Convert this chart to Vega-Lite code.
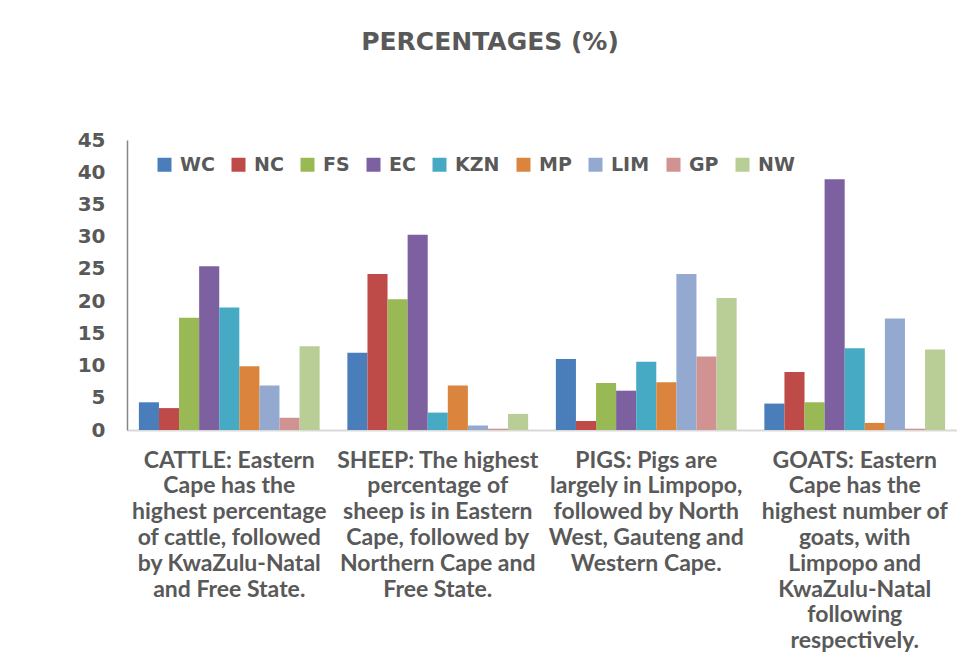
{
  "$schema": "https://vega.github.io/schema/vega-lite/v6.json",
  "autosize": {"type": "none"},
  "padding": {"left": 127, "top": 140, "right": 0, "bottom": 232},
  "width": 830,
  "height": 290,
  "background": "white",
  "title": {
    "text": "PERCENTAGES (%)",
    "font": "DejaVu Sans",
    "fontSize": 25,
    "fontWeight": "bold",
    "color": "#595959",
    "anchor": "middle",
    "frame": "group",
    "dx": -52,
    "offset": 75
  },
  "data": {
    "values": [
      {"animal": "CATTLE: Eastern|Cape has the|highest percentage|of cattle, followed|by KwaZulu-Natal|and Free State.", "province": "WC", "pct": 4.3},
      {"animal": "CATTLE: Eastern|Cape has the|highest percentage|of cattle, followed|by KwaZulu-Natal|and Free State.", "province": "NC", "pct": 3.4},
      {"animal": "CATTLE: Eastern|Cape has the|highest percentage|of cattle, followed|by KwaZulu-Natal|and Free State.", "province": "FS", "pct": 17.4},
      {"animal": "CATTLE: Eastern|Cape has the|highest percentage|of cattle, followed|by KwaZulu-Natal|and Free State.", "province": "EC", "pct": 25.4},
      {"animal": "CATTLE: Eastern|Cape has the|highest percentage|of cattle, followed|by KwaZulu-Natal|and Free State.", "province": "KZN", "pct": 19.0},
      {"animal": "CATTLE: Eastern|Cape has the|highest percentage|of cattle, followed|by KwaZulu-Natal|and Free State.", "province": "MP", "pct": 9.9},
      {"animal": "CATTLE: Eastern|Cape has the|highest percentage|of cattle, followed|by KwaZulu-Natal|and Free State.", "province": "LIM", "pct": 6.9},
      {"animal": "CATTLE: Eastern|Cape has the|highest percentage|of cattle, followed|by KwaZulu-Natal|and Free State.", "province": "GP", "pct": 1.9},
      {"animal": "CATTLE: Eastern|Cape has the|highest percentage|of cattle, followed|by KwaZulu-Natal|and Free State.", "province": "NW", "pct": 13.0},
      {"animal": "SHEEP: The highest|percentage of|sheep is in Eastern|Cape, followed by|Northern Cape and|Free State.", "province": "WC", "pct": 12.0},
      {"animal": "SHEEP: The highest|percentage of|sheep is in Eastern|Cape, followed by|Northern Cape and|Free State.", "province": "NC", "pct": 24.2},
      {"animal": "SHEEP: The highest|percentage of|sheep is in Eastern|Cape, followed by|Northern Cape and|Free State.", "province": "FS", "pct": 20.3},
      {"animal": "SHEEP: The highest|percentage of|sheep is in Eastern|Cape, followed by|Northern Cape and|Free State.", "province": "EC", "pct": 30.3},
      {"animal": "SHEEP: The highest|percentage of|sheep is in Eastern|Cape, followed by|Northern Cape and|Free State.", "province": "KZN", "pct": 2.7},
      {"animal": "SHEEP: The highest|percentage of|sheep is in Eastern|Cape, followed by|Northern Cape and|Free State.", "province": "MP", "pct": 6.9},
      {"animal": "SHEEP: The highest|percentage of|sheep is in Eastern|Cape, followed by|Northern Cape and|Free State.", "province": "LIM", "pct": 0.7},
      {"animal": "SHEEP: The highest|percentage of|sheep is in Eastern|Cape, followed by|Northern Cape and|Free State.", "province": "GP", "pct": 0.2},
      {"animal": "SHEEP: The highest|percentage of|sheep is in Eastern|Cape, followed by|Northern Cape and|Free State.", "province": "NW", "pct": 2.5},
      {"animal": "PIGS: Pigs are|largely in Limpopo,|followed by North|West, Gauteng and|Western Cape.", "province": "WC", "pct": 11.0},
      {"animal": "PIGS: Pigs are|largely in Limpopo,|followed by North|West, Gauteng and|Western Cape.", "province": "NC", "pct": 1.4},
      {"animal": "PIGS: Pigs are|largely in Limpopo,|followed by North|West, Gauteng and|Western Cape.", "province": "FS", "pct": 7.3},
      {"animal": "PIGS: Pigs are|largely in Limpopo,|followed by North|West, Gauteng and|Western Cape.", "province": "EC", "pct": 6.1},
      {"animal": "PIGS: Pigs are|largely in Limpopo,|followed by North|West, Gauteng and|Western Cape.", "province": "KZN", "pct": 10.6},
      {"animal": "PIGS: Pigs are|largely in Limpopo,|followed by North|West, Gauteng and|Western Cape.", "province": "MP", "pct": 7.4},
      {"animal": "PIGS: Pigs are|largely in Limpopo,|followed by North|West, Gauteng and|Western Cape.", "province": "LIM", "pct": 24.2},
      {"animal": "PIGS: Pigs are|largely in Limpopo,|followed by North|West, Gauteng and|Western Cape.", "province": "GP", "pct": 11.4},
      {"animal": "PIGS: Pigs are|largely in Limpopo,|followed by North|West, Gauteng and|Western Cape.", "province": "NW", "pct": 20.5},
      {"animal": "GOATS: Eastern|Cape has the|highest number of|goats, with|Limpopo and|KwaZulu-Natal|following|respectively.", "province": "WC", "pct": 4.1},
      {"animal": "GOATS: Eastern|Cape has the|highest number of|goats, with|Limpopo and|KwaZulu-Natal|following|respectively.", "province": "NC", "pct": 9.0},
      {"animal": "GOATS: Eastern|Cape has the|highest number of|goats, with|Limpopo and|KwaZulu-Natal|following|respectively.", "province": "FS", "pct": 4.3},
      {"animal": "GOATS: Eastern|Cape has the|highest number of|goats, with|Limpopo and|KwaZulu-Natal|following|respectively.", "province": "EC", "pct": 38.9},
      {"animal": "GOATS: Eastern|Cape has the|highest number of|goats, with|Limpopo and|KwaZulu-Natal|following|respectively.", "province": "KZN", "pct": 12.7},
      {"animal": "GOATS: Eastern|Cape has the|highest number of|goats, with|Limpopo and|KwaZulu-Natal|following|respectively.", "province": "MP", "pct": 1.1},
      {"animal": "GOATS: Eastern|Cape has the|highest number of|goats, with|Limpopo and|KwaZulu-Natal|following|respectively.", "province": "LIM", "pct": 17.3},
      {"animal": "GOATS: Eastern|Cape has the|highest number of|goats, with|Limpopo and|KwaZulu-Natal|following|respectively.", "province": "GP", "pct": 0.2},
      {"animal": "GOATS: Eastern|Cape has the|highest number of|goats, with|Limpopo and|KwaZulu-Natal|following|respectively.", "province": "NW", "pct": 12.5}
    ]
  },
  "mark": {"type": "bar"},
  "encoding": {
    "x": {
      "field": "animal",
      "type": "nominal",
      "sort": null,
      "scale": {"paddingInner": 0.133, "paddingOuter": 0.057},
      "axis": {
        "title": null,
        "labelAngle": 0,
        "labelExpr": "split(datum.label, '|')",
        "labelFont": "Lato",
        "labelFontSize": 23,
        "labelFontWeight": "bold",
        "labelColor": "#595959",
        "labelLineHeight": 25.8,
        "labelPadding": 19,
        "labelLimit": 0,
        "labelBaseline": "top",
        "ticks": false,
        "domainColor": "#d9d9d9",
        "domainWidth": 2
      }
    },
    "xOffset": {
      "field": "province",
      "type": "nominal",
      "sort": ["WC", "NC", "FS", "EC", "KZN", "MP", "LIM", "GP", "NW"],
      "scale": {"paddingInner": 0, "paddingOuter": 0}
    },
    "y": {
      "field": "pct",
      "type": "quantitative",
      "scale": {"domain": [0, 45], "nice": false},
      "axis": {
        "title": null,
        "values": [0, 5, 10, 15, 20, 25, 30, 35, 40, 45],
        "grid": false,
        "ticks": false,
        "labelFont": "DejaVu Sans",
        "labelFontSize": 20,
        "labelFontWeight": "bold",
        "labelColor": "#595959",
        "labelPadding": 22,
        "domainColor": "#868686",
        "domainWidth": 1.5
      }
    },
    "color": {
      "field": "province",
      "type": "nominal",
      "sort": ["WC", "NC", "FS", "EC", "KZN", "MP", "LIM", "GP", "NW"],
      "scale": {
        "domain": ["WC", "NC", "FS", "EC", "KZN", "MP", "LIM", "GP", "NW"],
        "range": ["#4a7ebb", "#be4b48", "#98b954", "#7d60a0", "#46aac5", "#db843d", "#93a9cf", "#d19392", "#b9cd96"]
      },
      "legend": {
        "title": null,
        "orient": "none",
        "legendX": 28,
        "legendY": 15,
        "direction": "horizontal",
        "symbolType": "square",
        "symbolSize": 196,
        "symbolStrokeWidth": 0,
        "labelFont": "DejaVu Sans",
        "labelFontSize": 19,
        "labelFontWeight": "bold",
        "labelColor": "#595959",
        "labelOffset": 6,
        "columnPadding": 14
      }
    }
  },
  "config": {"view": {"stroke": null}}
}
